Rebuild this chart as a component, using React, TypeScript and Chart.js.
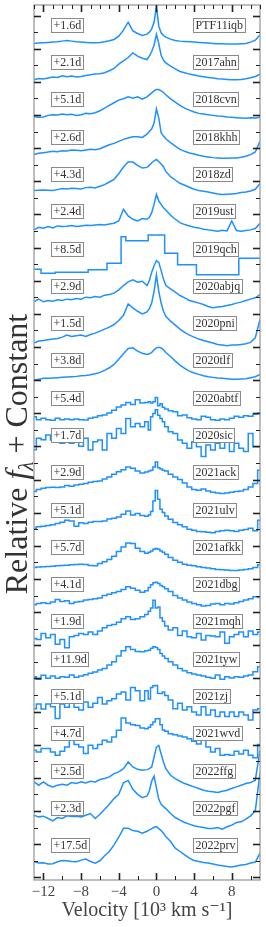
import { useEffect, useRef } from "react";
import { Chart, registerables } from "chart.js";

Chart.register(...registerables);

// Velocity grid (10^3 km/s)
const VELOCITY = [
  -13, -12.5, -12, -11.5, -11, -10.5, -10, -9.5, -9, -8.5,
  -8, -7.5, -7, -6.5, -6, -5.5, -5, -4.5, -4, -3.5,
  -3, -2.5, -2, -1.5, -1,
  -0.75, -0.5, -0.25, 0, 0.25, 0.5, 0.75,
  1, 1.5, 2, 2.5, 3, 3.5, 4, 4.5, 5, 5.5,
  6, 6.5, 7, 7.5, 8, 8.5, 9, 9.5, 10, 10.5, 11,
];

const X_TICK_LABELS = [-12, -8, -4, 0, 4, 8];

const NAMES = [
  "PTF11iqb", "2017ahn", "2018cvn", "2018khh", "2018zd", "2019ust", "2019qch",
  "2020abjq", "2020pni", "2020tlf", "2020abtf", "2020sic", "2021ack", "2021ulv",
  "2021afkk", "2021dbg", "2021mqh", "2021tyw", "2021zj", "2021wvd", "2022ffg",
  "2022pgf", "2022prv",
];

const PHASES = [
  "+1.6d", "+2.1d", "+5.1d", "+2.6d", "+4.3d", "+2.4d", "+8.5d",
  "+2.9d", "+1.5d", "+3.8d", "+5.4d", "+1.7d", "+2.9d", "+5.1d",
  "+5.7d", "+4.1d", "+1.9d", "+11.9d", "+5.1d", "+4.7d", "+2.5d",
  "+2.3d", "+17.5d",
];

const LOW_RES = ["2019qch", "2020abtf", "2020sic", "2021ack", "2021ulv", "2021afkk", "2021dbg", "2021mqh", "2021tyw", "2021zj", "2021wvd"];

// Relative flux (arbitrary units) on the VELOCITY grid
const PTF11IQB = [-2, -1, 0, 1, 2, 3, 5, 7, 5, 3, 2, 1, 0, 0, 1, 3, 6, 10, 20, 38, 62, 36, 28, 22, 26, 32, 42, 62, 110, 50, 30, 22, 17, 11, 7, 5, 4, 3, 2, 1, 0, -1, -2, -3, -3, -4, -4, -4, -3, -2, 2, 8, 24];
const SN2017AHN = [1, 5, 3, 6, 9, 8, 13, 10, 12, 9, 11, 14, 16, 18, 19, 22, 28, 35, 48, 58, 68, 82, 72, 66, 62, 72, 86, 105, 138, 110, 75, 60, 52, 42, 34, 26, 22, 18, 15, 12, 10, 8, 6, 4, 3, 2, 1, 1, 2, 4, 7, 11, 18];
const SN2018CVN = [2, 0, 1, 6, 8, 7, 10, 8, 9, 6, 8, 12, 11, 14, 20, 28, 36, 44, 52, 56, 62, 58, 62, 55, 62, 68, 74, 80, 84, 84, 80, 75, 68, 56, 46, 36, 28, 22, 16, 12, 10, 8, 6, 4, 3, 1, 0, -1, -2, -3, -1, -2, 0];
const SN2018KHH = [0, 4, 6, 8, 10, 9, 12, 11, 14, 13, 12, 14, 16, 15, 18, 24, 30, 34, 40, 46, 50, 54, 54, 52, 62, 70, 78, 95, 138, 110, 66, 56, 48, 36, 26, 16, 10, 5, 2, -2, -5, -7, -9, -10, -11, -11, -10, -10, -8, -5, 0, 8, 40];
const SN2018ZD = [4, 5, 6, 5, 4, 7, 10, 9, 11, 10, 9, 13, 14, 12, 17, 22, 30, 38, 55, 75, 90, 90, 80, 72, 74, 80, 88, 94, 98, 92, 84, 76, 62, 46, 36, 26, 20, 14, 8, 4, 2, 0, -3, -6, -8, -7, -6, -5, -2, 0, 3, 8, 25];
const SN2019UST = [-2, 6, 3, 8, 4, 10, 8, 9, 11, 8, 10, 12, 11, 13, 14, 13, 16, 18, 25, 60, 40, 30, 25, 32, 30, 36, 50, 75, 105, 85, 75, 65, 58, 42, 30, 20, 14, 10, 6, 4, 0, -2, -4, -6, -3, -5, 25, -4, -6, -4, -2, 2, 18];
const SN2019QCH = [-8, -8, -20, -20, -20, -17, -17, -17, -17, -17, -17, -17, -10, -10, -10, -10, 10, 10, 10, 90, 78, 78, 78, 78, 78, 95, 95, 95, 95, 95, 95, 95, 40, 40, 40, 5, 5, 5, 5, -25, -25, -25, -25, -25, -25, -25, -25, -25, 25, 25, 25, 25, 25];
const SN2020ABJQ = [7, 14, 6, 10, 8, 12, 10, 14, 12, 16, 14, 20, 18, 22, 20, 26, 28, 32, 42, 55, 66, 72, 65, 68, 55, 70, 95, 115, 130, 125, 100, 75, 55, 45, 35, 25, 18, 10, 6, 2, -2, -8, -12, -10, -8, -5, -2, 2, 5, 10, 14, 18, 28];
const SN2020PNI = [-6, 0, 2, 4, 6, 8, 12, 18, 14, 16, 18, 14, 20, 24, 30, 36, 42, 50, 62, 78, 112, 100, 90, 82, 88, 98, 115, 150, 200, 150, 115, 90, 75, 60, 48, 36, 26, 18, 12, 6, 2, -2, -6, -10, -12, -14, -12, -12, -10, -8, -4, 10, 65];
const SN2020TLF = [-5, -3, 0, 0, 1, 2, 3, 4, 5, 6, 8, 9, 11, 14, 18, 24, 32, 42, 58, 74, 90, 92, 82, 76, 72, 74, 78, 86, 92, 94, 92, 86, 78, 66, 52, 40, 30, 22, 16, 12, 8, 5, 3, 1, 0, -1, -3, -3, -2, -1, 2, 5, 12];
const SN2020ABTF = [-3, -12, -8, -12, -14, -8, -12, -10, -12, -10, -12, -13, -8, -5, 0, 2, 8, 16, 26, 32, 40, 34, 48, 38, 40, 42, 38, 42, 55, 30, 36, 25, 20, 15, 12, 0, 2, -6, -10, -12, -2, -5, -12, -14, -10, -12, -8, -2, -5, 0, -2, 5, 7];
const SN2020SIC = [10, 44, 40, 54, 39, 44, 29, 49, 29, 39, 20, 44, 9, 34, 39, 9, 59, 44, 74, 59, 104, 79, 89, 79, 94, 69, 109, 119, 130, 114, 104, 94, 79, 64, 59, 39, 29, 14, 34, 19, -11, 24, 9, 29, 14, 34, 4, 29, 14, 4, 59, 19, 19];
const SN2021ACK = [-4, 2, 6, 8, 9, 8, 10, 14, 12, 16, 18, 20, 24, 26, 28, 34, 40, 48, 56, 62, 70, 66, 58, 52, 55, 58, 60, 70, 85, 68, 64, 60, 58, 48, 40, 32, 22, 10, 2, 0, 4, -2, -6, -8, -10, -8, -6, -4, -2, 2, 10, 20, 60];
const SN2021ULV = [-2, 2, 4, 6, 8, 12, 16, 22, 20, 4, 14, 12, 16, 18, 18, 20, 26, 28, 32, 40, 50, 38, 42, 36, 34, 38, 48, 80, 112, 85, 55, 45, 35, 25, 15, 8, 2, -5, -8, -12, -13, -14, -16, -12, -10, -8, -10, -12, -8, -6, -2, -10, 22];
const SN2021AFKK = [-8, -7, -6, -5, -4, -3, -2, -1, 0, 1, 2, 1, -2, -3, 4, 9, 16, 26, 40, 54, 66, 64, 50, 40, 35, 38, 42, 47, 49, 47, 42, 38, 32, 22, 14, 8, 2, -1, -3, -6, -8, -10, -12, -14, -15, -16, -17, -17, -16, -14, -12, -8, 0];
const SN2021DBG = [-8, -4, -2, -4, 0, 8, 2, 4, -4, 0, 2, 6, 8, 10, 12, 20, 24, 28, 32, 38, 46, 42, 36, 30, 34, 44, 52, 58, 60, 56, 50, 46, 40, 32, 20, 12, 6, 0, -4, -8, -12, -10, -6, -4, -8, -4, -6, -2, 2, 6, 10, 16, 14];
const SN2021MQH = [3, 0, 18, 5, 15, -15, 0, -25, 8, 12, 18, 15, 22, 15, 25, 35, 42, 45, 52, 62, 68, 60, 62, 68, 75, 85, 95, 118, 95, 98, 65, 55, 40, 28, 35, 12, 25, 8, 5, 18, -2, 12, 10, 8, 22, -12, 8, 15, 22, 8, 25, 15, 22];
const SN2021TYW = [0, -8, 4, -5, 2, -5, 0, -2, 5, -2, 2, 6, 10, 14, 20, 25, 35, 45, 62, 78, 90, 82, 76, 75, 78, 80, 86, 90, 88, 82, 70, 62, 55, 45, 35, 25, 18, 12, 8, 5, 2, -2, -5, 5, -8, 0, -4, 0, -2, 2, 5, 15, 30];
const SN2021ZJ = [16, 30, 15, 30, 22, -14, 30, 20, 36, 20, 12, 36, 20, 32, 50, 30, 40, 46, 60, 66, 42, 80, 70, 40, 70, 45, 80, 85, 86, 62, 62, 66, 56, 42, 16, 32, 12, 22, 6, -3, 22, -3, 12, -8, 6, -8, 6, -8, 6, -3, -18, 12, 16];
const SN2021WVD = [3, -2, 8, 8, -2, -12, 0, 13, 38, 20, 13, -7, 18, 8, 20, 33, 28, 43, 63, 100, 85, 80, 78, 70, 68, 72, 80, 88, 98, 98, 80, 64, 60, 53, 50, 46, 43, 38, 30, 22, 38, 13, -2, 8, -12, -10, -12, 0, -8, 3, -12, -20, 20];
const SN2022FFG = [20, 10, 20, 10, 5, 10, 13, 10, 18, 15, 20, 17, 22, 20, 27, 30, 35, 45, 50, 60, 80, 65, 58, 55, 57, 60, 65, 95, 125, 130, 105, 80, 60, 40, 30, 22, 15, 10, 5, 0, -5, -8, -10, -12, -8, -5, 0, 5, 10, 15, 18, 25, 115];
const SN2022PGF = [32, 27, 29, 22, 15, 25, 22, 30, 28, 29, 27, 32, 37, 22, 35, 50, 65, 82, 95, 130, 137, 110, 95, 85, 90, 105, 135, 150, 115, 80, 65, 58, 52, 37, 25, 17, 10, 5, 0, -3, -5, -8, -8, -5, -10, -3, 2, 10, 12, 20, 30, 45, 160];
const SN2022PRV = [4, 0, 1, -3, -2, 4, 8, 7, 5, 4, 9, 12, 5, 0, 7, 22, 35, 55, 78, 105, 105, 98, 96, 90, 96, 100, 104, 108, 110, 104, 98, 90, 80, 65, 45, 35, 25, 15, 8, 5, 2, 0, -3, -6, -8, -10, -12, -9, -6, -4, 0, 3, 30];

const FLUXES = [
  PTF11IQB, SN2017AHN, SN2018CVN, SN2018KHH, SN2018ZD, SN2019UST, SN2019QCH,
  SN2020ABJQ, SN2020PNI, SN2020TLF, SN2020ABTF, SN2020SIC, SN2021ACK, SN2021ULV,
  SN2021AFKK, SN2021DBG, SN2021MQH, SN2021TYW, SN2021ZJ, SN2021WVD, SN2022FFG,
  SN2022PGF, SN2022PRV,
];

// constant added per spectrum
const OFFSET_STEP = 112.5;
const OFFSET_BASE = -57;
const LABEL_LIFT = 54;
const Y_MIN = -108;
const Y_MAX = 2532;
const X_MIN = -13;
const X_MAX = 11;

const SERIF = '"Liberation Serif", "DejaVu Serif", serif';
const LINE_COLOR = "#1e90ff";

const offsetOf = (i: number) => (NAMES.length - 1 - i) * OFFSET_STEP + OFFSET_BASE;

const decorPlugin = {
  id: "decor",
  afterDatasetsDraw(chart: any) {
    const { ctx, chartArea: a, scales } = chart;
    const xs = scales.x;
    const ys = scales.y;
    ctx.save();

    const seg = (x1: number, y1: number, x2: number, y2: number) => {
      ctx.beginPath();
      ctx.moveTo(x1, y1);
      ctx.lineTo(x2, y2);
      ctx.stroke();
    };

    // label boxes
    ctx.font = `12px ${SERIF}`;
    ctx.textBaseline = "middle";
    ctx.textAlign = "left";
    const box = (text: string, left: number, cy: number) => {
      const w = Math.round(ctx.measureText(text).width + 4);
      const h = 14;
      const l = Math.round(left) + 0.5;
      const t = Math.round(cy - h / 2) + 0.5;
      ctx.fillStyle = "#ffffff";
      ctx.fillRect(l, t, w, h);
      ctx.strokeStyle = "#8a8a8a";
      ctx.lineWidth = 1;
      ctx.strokeRect(l, t, w, h);
      ctx.fillStyle = "#333";
      ctx.fillText(text, l + 2, t + h / 2 + 0.5);
    };
    NAMES.forEach((name, i) => {
      const cy = ys.getPixelForValue(offsetOf(i) + LABEL_LIFT);
      box(PHASES[i], xs.getPixelForValue(-11.15), cy);
      box(name, xs.getPixelForValue(3.85), cy);
    });

    // frame
    ctx.strokeStyle = "#9c9c9c";
    ctx.lineWidth = 1.3;
    ctx.strokeRect(a.left, a.top, a.right - a.left, a.bottom - a.top);

    // y ticks, both sides
    ctx.strokeStyle = "#222";
    for (const t of ys.ticks) {
      const major = Math.round(t.value) % 100 === 0;
      const py = Math.round(ys.getPixelForValue(t.value)) + 0.5;
      ctx.lineWidth = major ? 1.6 : 1;
      const len = major ? 7 : 4;
      seg(a.left, py, a.left + len, py);
      seg(a.right - len, py, a.right, py);
    }
    // bottom ticks
    for (let v = -12; v <= 10; v += 2) {
      const major = v % 4 === 0;
      const px = Math.round(xs.getPixelForValue(v)) + 0.5;
      ctx.lineWidth = major ? 1.6 : 1;
      seg(px, a.bottom, px, a.bottom - (major ? 7 : 4));
    }
    // top ticks
    for (let v = -13; v <= 11; v += 1) {
      const major = v % 4 === 0;
      const px = Math.round(xs.getPixelForValue(v)) + 0.5;
      ctx.lineWidth = major ? 1.6 : 1;
      seg(px, a.top, px, a.top + (major ? 7 : 4));
    }
    ctx.restore();
  },
  afterDraw(chart: any) {
    const { ctx } = chart;
    ctx.save();
    ctx.translate(27, 454);
    ctx.rotate(-Math.PI / 2);
    ctx.fillStyle = "#333";
    ctx.textBaseline = "alphabetic";
    ctx.textAlign = "left";
    const parts = [
      { t: "Relative ", f: `32px ${SERIF}`, dy: 0 },
      { t: "f", f: `italic 32px ${SERIF}`, dy: 0 },
      { t: "λ", f: `italic 21px ${SERIF}`, dy: 6 },
      { t: " + Constant", f: `32px ${SERIF}`, dy: 0 },
    ];
    let total = 0;
    for (const p of parts) {
      ctx.font = p.f;
      total += ctx.measureText(p.t).width;
    }
    let x = -total / 2;
    for (const p of parts) {
      ctx.font = p.f;
      ctx.fillText(p.t, x, p.dy);
      x += ctx.measureText(p.t).width;
    }
    ctx.restore();
  },
};

export default function App() {
  const ref = useRef<HTMLCanvasElement | null>(null);

  useEffect(() => {
    if (!ref.current) return;
    const datasets = FLUXES.map((flux, i) => ({
      label: NAMES[i],
      data: VELOCITY.map((v, k) => ({ x: v, y: flux[k] + offsetOf(i) })),
      borderColor: LINE_COLOR,
      backgroundColor: LINE_COLOR,
      borderWidth: 1.5,
      pointRadius: 0,
      tension: 0,
      fill: false,
      stepped: LOW_RES.includes(NAMES[i]) ? ("middle" as const) : false,
    }));

    const chart = new Chart(ref.current, {
      type: "line",
      data: { datasets },
      options: {
        animation: false,
        responsive: false,
        devicePixelRatio: 1,
        layout: { padding: { top: 5, right: 6, left: 0, bottom: 0 } },
        plugins: { legend: { display: false }, tooltip: { enabled: false } },
        scales: {
          x: {
            type: "linear",
            min: X_MIN,
            max: X_MAX,
            grid: { display: false, drawTicks: false },
            border: { display: false },
            afterBuildTicks: (s: any) => {
              s.ticks = X_TICK_LABELS.map((v) => ({ value: v }));
            },
            afterFit: (s: any) => {
              s.height = 47;
            },
            ticks: {
              padding: 3,
              color: "#444",
              font: { family: SERIF, size: 15 },
              maxRotation: 0,
              callback: (v: any) => (Number(v) < 0 ? "\u2212" + Math.abs(Number(v)) : String(v)),
            },
            title: {
              display: true,
              text: "Velocity [10³ km s⁻¹]",
              color: "#444",
              font: { family: SERIF, size: 20 },
              padding: { top: 0, bottom: 4 },
            },
          },
          y: {
            type: "linear",
            min: Y_MIN,
            max: Y_MAX,
            grid: { display: false, drawTicks: false },
            border: { display: false },
            ticks: { display: false },
            afterBuildTicks: (s: any) => {
              const t = [];
              for (let v = -100; v <= 2500; v += 50) t.push({ value: v });
              s.ticks = t;
            },
            afterFit: (s: any) => {
              s.width = 34;
            },
          },
        },
      },
      plugins: [decorPlugin],
    });
    return () => chart.destroy();
  }, []);

  return (
    <div style={{ position: "absolute", left: 0, top: 0, width: 266, height: 927, background: "#fff" }}>
      <canvas ref={ref} width={266} height={927} style={{ display: "block", width: 266, height: 927 }} />
    </div>
  );
}
